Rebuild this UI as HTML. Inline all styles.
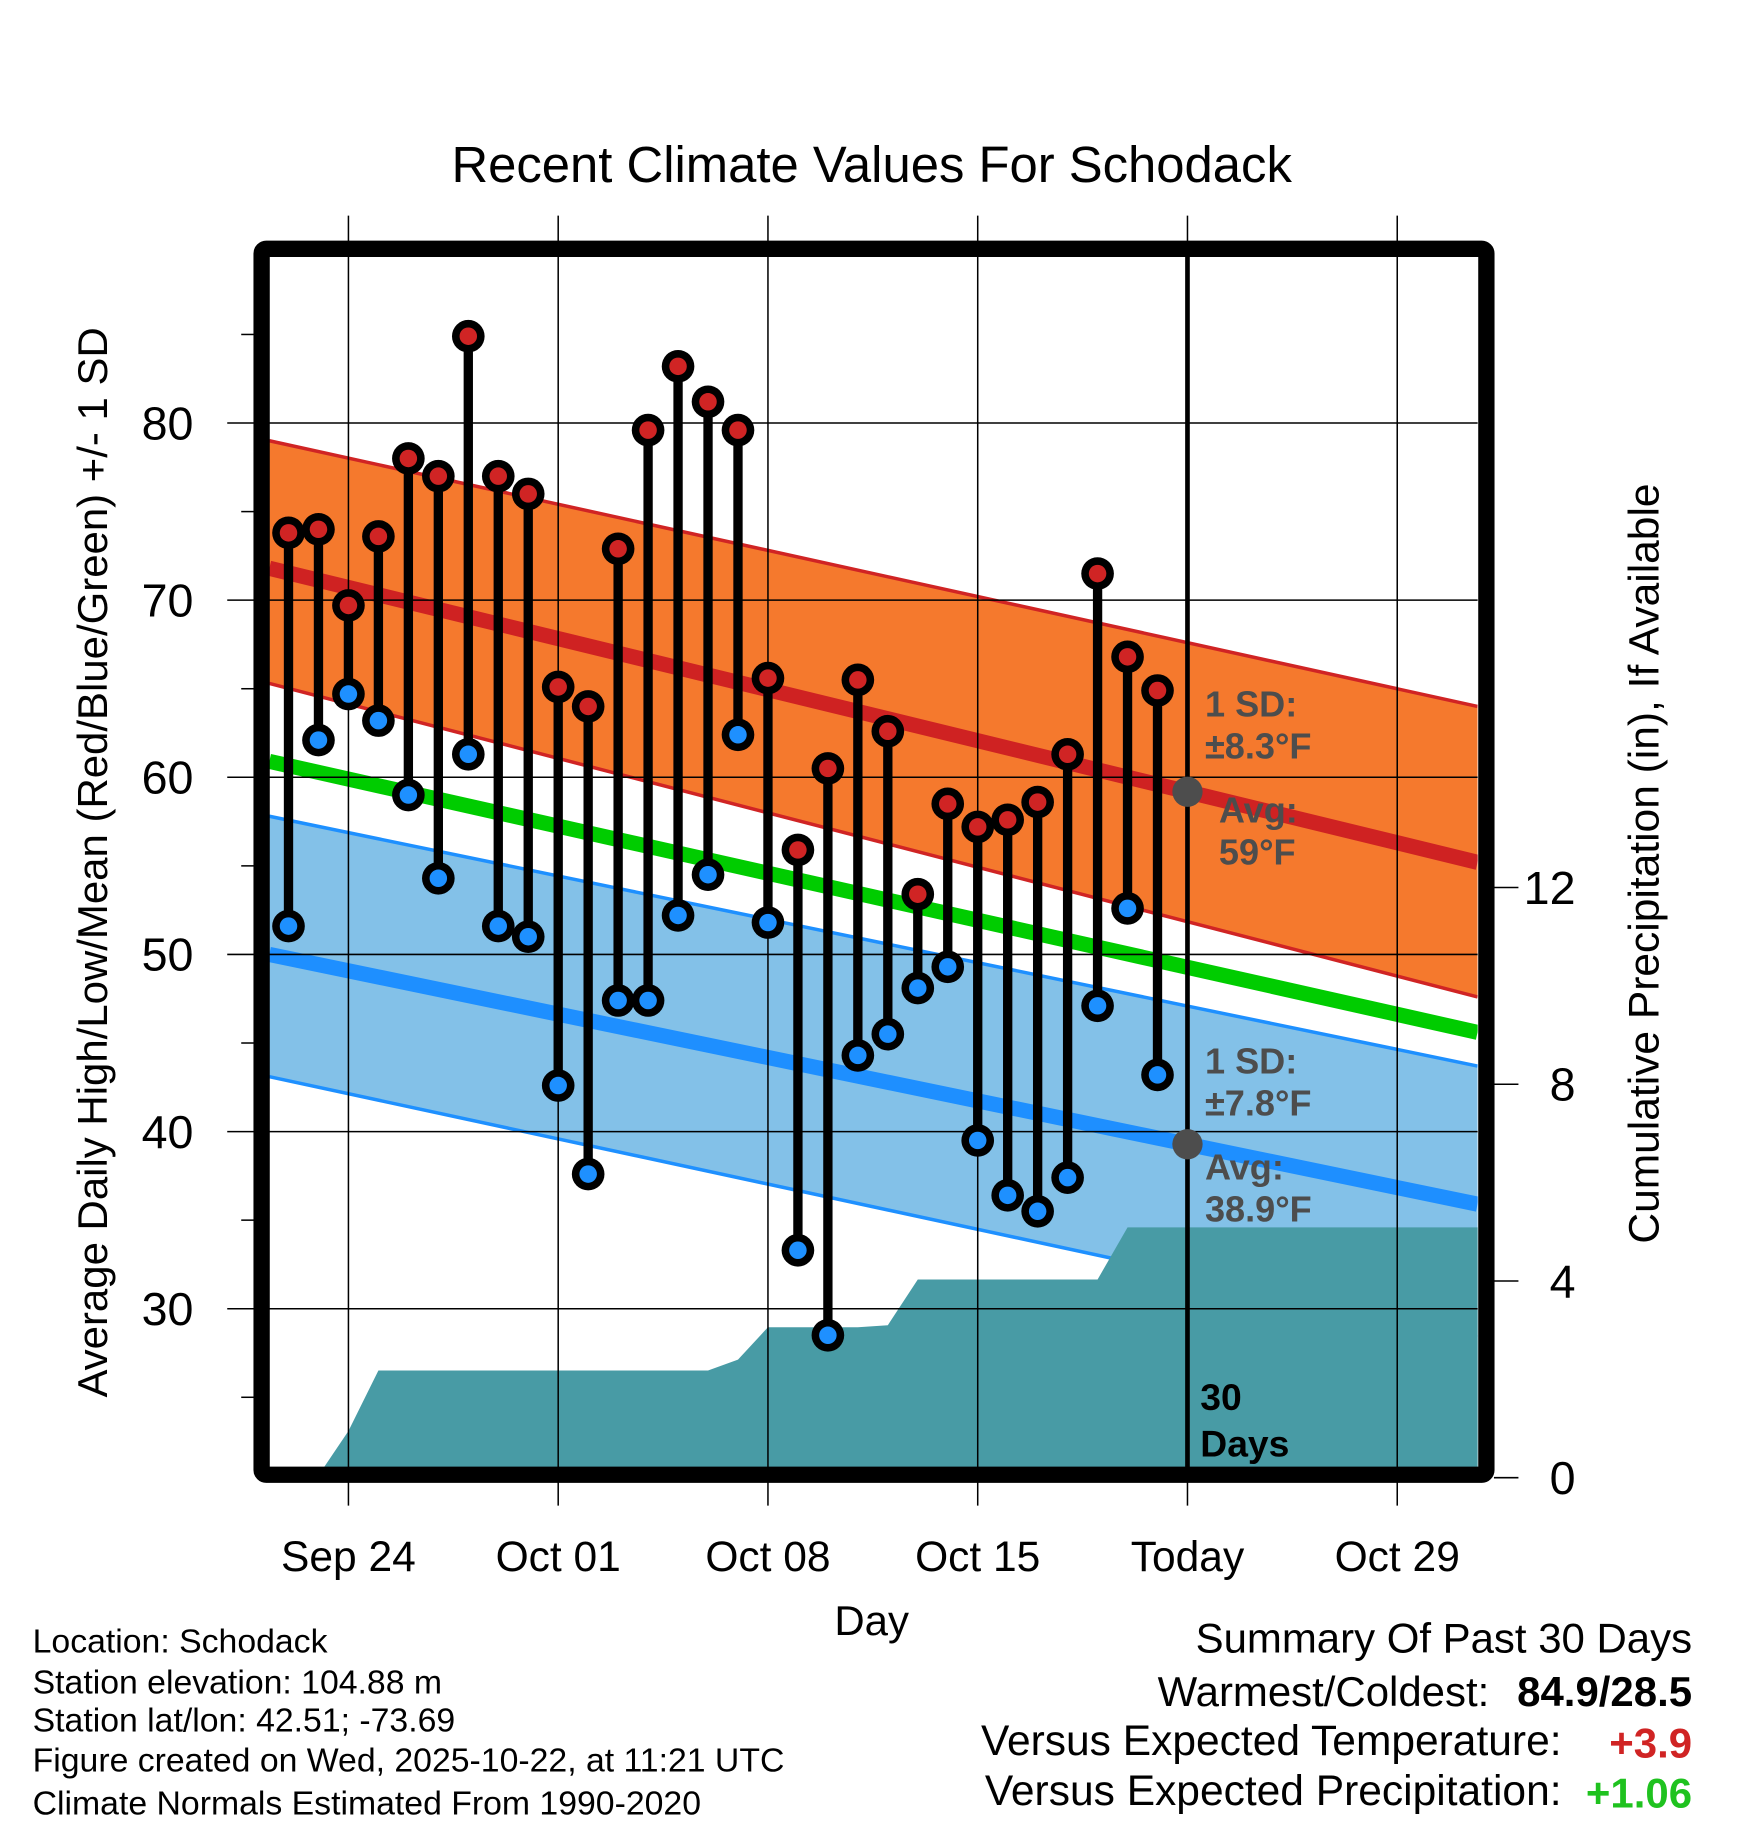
<!DOCTYPE html>
<html><head><meta charset="utf-8"><style>
html,body{margin:0;padding:0;background:#fff;}
svg{display:block;font-family:"Liberation Sans",Arial,sans-serif;}
</style></head><body>
<svg id="chart" width="1748" height="1828" viewBox="0 0 1500 1568.6" preserveAspectRatio="none" xmlns="http://www.w3.org/2000/svg">
<text x="748" y="156" font-size="43.6" text-anchor="middle">Recent Climate Values For Schodack</text>
<g id="layer"></g>
</svg>
<script>
// ---- data ----
const days = [-2,-1,0,1,2,3,4,5,6,7,8,9,10,11,12,13,14,15,16,17,18,19,20,21,22,23,24,25,26,27];
const highs = [73.8,74.0,69.7,73.6,78.0,77.0,84.9,77.0,76.0,65.1,64.0,72.9,79.6,83.2,81.2,79.6,65.6,55.9,60.5,65.5,62.6,53.4,58.5,57.2,57.6,58.6,61.3,71.5,66.8,64.9];
const lows = [51.6,62.1,64.7,63.2,59.0,54.3,61.3,51.6,51.0,42.6,37.6,47.4,47.4,52.2,54.5,62.4,51.8,33.3,28.5,44.3,45.5,48.1,49.3,39.5,36.4,35.5,37.4,47.1,52.6,43.2];
const precipDays = [-1.05,0,1,2,3,4,5,6,7,8,9,10,11,12,13,14,15,16,17,18,19,20,21,22,23,24,25,26,27,37.7];
const precipCum = [0,0.95,2.18,2.18,2.18,2.18,2.18,2.18,2.18,2.18,2.18,2.18,2.18,2.18,2.4,3.06,3.06,3.06,3.06,3.1,4.03,4.03,4.03,4.03,4.03,4.03,4.03,5.09,5.09,5.09];
const normDays = [-2.64, 37.68];
const highMean = [71.8, 55.2];
const highUpper = [79.0, 64.0];
const highLower = [65.3, 47.6];
const meanNorm = [60.9, 45.6];
const lowMean = [50.0, 35.9];
const lowUpper = [57.8, 43.7];
const lowLower = [43.1, 28.4];
const yTicks = [30,40,50,60,70,80];
const yMinor = [25,35,45,55,65,75,85];
const y2Ticks = [0,4,8,12];
const xTickDays = [0,7,14,21,28,35];
const xTickLabels = ["Sep 24","Oct 01","Oct 08","Oct 15","Today","Oct 29"];
const todayDay = 28;

// ---- axes ----
const L=231,R=1268,T=220,B=1260;
const xs = d => 299 + d*180/7;
const ys = v => 363 + (80-v)*15.2;
const yp = p => 1268 - p*42.2;
const NS="http://www.w3.org/2000/svg";
const layer=document.getElementById('layer');
function mk(tag,attrs,parent){const e=document.createElementNS(NS,tag);for(const k in attrs)e.setAttribute(k,attrs[k]);(parent||layer).appendChild(e);return e;}
const clip=mk('clipPath',{id:'pc'});mk('rect',{x:L,y:T,width:R-L,height:B-T},clip);
const g=mk('g',{'clip-path':'url(#pc)'});
function gl(tag,attrs){return mk(tag,attrs,g);}
// bands
(function(){
 const p1=`M${xs(normDays[0])},${ys(highUpper[0])} L${xs(normDays[1])},${ys(highUpper[1])} L${xs(normDays[1])},${ys(highLower[1])} L${xs(normDays[0])},${ys(highLower[0])} Z`;
 const e1=gl('path',{d:p1,fill:'#f5792d'});
 
 
 const p2=`M${xs(normDays[0])},${ys(lowUpper[0])} L${xs(normDays[1])},${ys(lowUpper[1])} L${xs(normDays[1])},${ys(lowLower[1])} L${xs(normDays[0])},${ys(lowLower[0])} Z`;
 const e2=gl('path',{d:p2,fill:'#83c1e8'});
 
 
 [[highUpper,'#d02424',3],[highLower,'#d02424',3],[lowUpper,'#1e90ff',3],[lowLower,'#1e90ff',3]].forEach(a=>{
  const e=gl('line',{x1:xs(normDays[0]),y1:ys(a[0][0]),x2:xs(normDays[1]),y2:ys(a[0][1]),stroke:a[1],'stroke-width':a[2]});
  
  
 });
})();
// grid
yTicks.forEach(v=>{const e=mk('line',{x1:195,x2:R,y1:ys(v),y2:ys(v),stroke:'#000','stroke-width':1.3});
 
 });
yMinor.forEach(v=>{const e=mk('line',{x1:207,x2:218,y1:ys(v),y2:ys(v),stroke:'#000','stroke-width':1.3});
 
 });
xTickDays.forEach(d=>{const e=mk('line',{x1:xs(d),x2:xs(d),y1:185,y2:1292,stroke:'#000','stroke-width':1.3});
 
 });
y2Ticks.forEach(p=>{const e=mk('line',{x1:1282,x2:1303,y1:yp(p),y2:yp(p),stroke:'#000','stroke-width':1.3});
 
 });
// mean lines
(function(){
 [[highMean,'#cf2222','high-mean-line'],[meanNorm,'#00cc00','mean-normal-line'],[lowMean,'#1e8fff','low-mean-line']].forEach(a=>{
  const e=gl('line',{x1:xs(normDays[0]),y1:ys(a[0][0]),x2:xs(normDays[1]),y2:ys(a[0][1]),stroke:a[1],'stroke-width':13});
  
  
 });
})();
// precip
(function(){
 let d=`M${xs(precipDays[0])},${B+20}`;
 precipDays.forEach((dd,i)=>{d+=` L${xs(dd)},${yp(precipCum[i])}`;});
 d+=` L${xs(precipDays[precipDays.length-1])},${B+20} Z`;
 const e=gl('path',{d:d,fill:'#489ba5'});
 
 
})();
// today line
(function(){const e=mk('line',{x1:xs(todayDay),x2:xs(todayDay),y1:T,y2:B,stroke:'#000','stroke-width':4});
 
 })();
// avg markers
[[highMean],[lowMean]].forEach(a=>{
 const v=a[0][0]+(a[0][1]-a[0][0])*(todayDay-normDays[0])/(normDays[1]-normDays[0]);
 const e=mk('circle',{cx:xs(todayDay),cy:ys(v),r:13,fill:'#4d4d4d'});
 
 
});
// stems and dots
days.forEach((d,i)=>{
 const x=xs(d);
 const s=mk('line',{x1:x,x2:x,y1:ys(highs[i]),y2:ys(lows[i]),stroke:'#000','stroke-width':8});
 
 
 [[highs[i],'#d02424','high-point'],[lows[i],'#1e90ff','low-point']].forEach(p=>{
  const o=mk('circle',{cx:x,cy:ys(p[0]),r:14,fill:'#000'});
  
  
  const c=mk('circle',{cx:x,cy:ys(p[0]),r:7.5,fill:p[1]});
  
  
 });
});
// frame
(function(){const e=mk('rect',{x:224.5,y:213.5,width:1051,height:1052,fill:'none',stroke:'#000','stroke-width':14,rx:4});
 
 })();
// tick labels
yTicks.forEach(v=>{const t=mk('text',{x:166,y:ys(v)+14,'font-size':40,'text-anchor':'end'});t.textContent=v;
 
 });
y2Ticks.forEach(p=>{const t=mk('text',{x:1352,y:yp(p)+14,'font-size':40,'text-anchor':'end'});t.textContent=p;
 
 });
xTickDays.forEach((d,i)=>{const t=mk('text',{x:xs(d),y:1348,'font-size':36.5,'text-anchor':'middle'});t.textContent=xTickLabels[i];
 
 });
</script>
<script>
(function(){
const NS="http://www.w3.org/2000/svg";const layer=document.getElementById('layer');
function tx(x,y,s,str,o){const t=document.createElementNS(NS,'text');t.setAttribute('x',x);t.setAttribute('y',y);t.setAttribute('font-size',s);
 for(const k in (o||{}))t.setAttribute(k,o[k]);t.textContent=str;layer.appendChild(t);return t;}
let t;
t=tx(0,0,36,'Average Daily High/Low/Mean (Red/Blue/Green) +/- 1 SD',{'text-anchor':'middle',transform:'translate(92,740) rotate(-90)'});


t=tx(0,0,36.5,'Cumulative Precipitation (in), If Available',{'text-anchor':'middle',transform:'translate(1423,741) rotate(-90)'});


t=tx(748,1403,36,'Day',{'text-anchor':'middle'});


const g={fill:'#4d4d4d','font-weight':'bold'};
[[1034,615,'1 SD:'],[1034,651,'±8.3°F'],[1046,706,'Avg:'],[1046,742,'59°F'],[1034,921,'1 SD:'],[1034,957,'±7.8°F'],[1034,1012,'Avg:'],[1034,1048,'38.9°F']].forEach(a=>{
 t=tx(a[0],a[1],31,a[2],g);
 
 
});
t=tx(1030,1210,32,'30',{'font-weight':'bold'});


t=tx(1030,1250,32,'Days',{'font-weight':'bold'});


['Location: Schodack','Station elevation: 104.88 m','Station lat/lon: 42.51; -73.69','Figure created on Wed, 2025-10-22, at 11:21 UTC','Climate Normals Estimated From 1990-2020'].forEach((s,i)=>{
 t=tx(28,[1418,1453,1486,1520,1557][i],29,s);
 
 
});
t=tx(1452,1418,36,'Summary Of Past 30 Days',{'text-anchor':'end'});


t=tx(1278,1464,36,'Warmest/Coldest:',{'text-anchor':'end'});


t=tx(1452,1464,36,'84.9/28.5',{'text-anchor':'end','font-weight':'bold'});


t=tx(1340,1506,36.5,'Versus Expected Temperature:',{'text-anchor':'end'});


t=tx(1452,1508,36,'+3.9',{'text-anchor':'end','font-weight':'bold',fill:'#d02424'});


t=tx(1340,1549,36.5,'Versus Expected Precipitation:',{'text-anchor':'end'});


t=tx(1452,1551,36,'+1.06',{'text-anchor':'end','font-weight':'bold',fill:'#1fc21f'});


})();
</script>
</body></html>
